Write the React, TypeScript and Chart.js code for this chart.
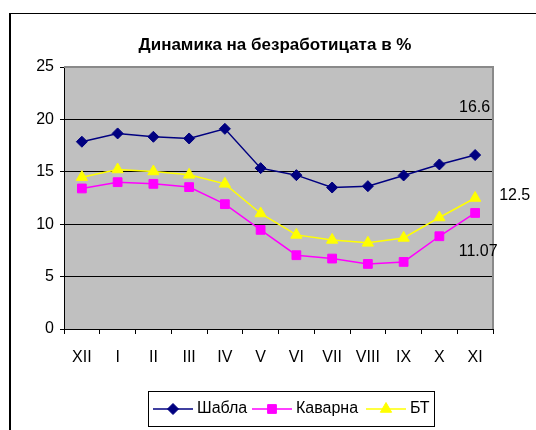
import React, { useEffect, useRef } from "react";
import { Chart, registerables } from "chart.js";

Chart.register(...registerables);

const TITLE = "Динамика на безработицата в %";
const months = ["XII", "I", "II", "III", "IV", "V", "VI", "VII", "VIII", "IX", "X", "XI"];
const shabla = [17.87, 18.66, 18.34, 18.18, 19.1, 15.35, 14.68, 13.5, 13.63, 14.65, 15.7, 16.6];
const kavarna = [13.41, 14.01, 13.85, 13.54, 11.91, 9.46, 7.04, 6.72, 6.21, 6.4, 8.85, 11.07];
const bt = [14.49, 15.22, 15.03, 14.71, 13.85, 11.02, 8.98, 8.5, 8.22, 8.69, 10.64, 12.5];
const seriesNames = ["Шабла", "Каварна", "БТ"];
const yTicks = [0, 5, 10, 15, 20, 25];

const FONT = "'Liberation Sans', Arial, sans-serif";
const LEGEND_STARTS = [153, 252, 366];

function drawMarker(ctx: CanvasRenderingContext2D, style: string, r: number, x: number, y: number) {
  ctx.beginPath();
  if (style === "rectRot") {
    ctx.moveTo(x, y - r);
    ctx.lineTo(x + r, y);
    ctx.lineTo(x, y + r);
    ctx.lineTo(x - r, y);
  } else if (style === "rect") {
    const s = r * Math.SQRT1_2;
    ctx.rect(x - s, y - s, 2 * s, 2 * s);
  } else {
    ctx.moveTo(x, y - r);
    ctx.lineTo(x + r * Math.sin((2 * Math.PI) / 3), y - r * Math.cos((2 * Math.PI) / 3));
    ctx.lineTo(x + r * Math.sin((4 * Math.PI) / 3), y - r * Math.cos((4 * Math.PI) / 3));
  }
  ctx.closePath();
  ctx.fill();
  ctx.stroke();
}

const decorPlugin = {
  id: "decor",
  beforeDraw(chart: any) {
    const { ctx, chartArea: a } = chart;
    ctx.save();
    ctx.fillStyle = "#ffffff";
    ctx.fillRect(0, 0, chart.width, chart.height);
    ctx.fillStyle = "#000";
    ctx.fillRect(9, 13, 2, chart.height - 13);
    ctx.fillRect(9, 13, chart.width - 9, 1);
    ctx.fillStyle = "#c0c0c0";
    ctx.fillRect(a.left, a.top, a.right - a.left, a.bottom - a.top);
    ctx.restore();
  },
  beforeDatasetsDraw(chart: any) {
    const { ctx, chartArea: a } = chart;
    ctx.save();
    ctx.strokeStyle = "#8a8a8a";
    ctx.lineWidth = 2;
    ctx.beginPath();
    ctx.moveTo(a.left, a.top);
    ctx.lineTo(a.right, a.top);
    ctx.lineTo(a.right, a.bottom);
    ctx.stroke();
    ctx.restore();
  },
  afterDraw(chart: any) {
    const { ctx } = chart;
    ctx.save();
    ctx.fillStyle = "#000";
    ctx.font = `bold 17px ${FONT}`;
    ctx.textAlign = "center";
    ctx.textBaseline = "middle";
    ctx.fillText(TITLE, 275, 45);

    ctx.font = `16px ${FONT}`;
    const last = months.length - 1;
    const p0 = chart.getDatasetMeta(0).data[last];
    const p1 = chart.getDatasetMeta(1).data[last];
    const p2 = chart.getDatasetMeta(2).data[last];
    ctx.textAlign = "right";
    ctx.fillText(String(shabla[last]), p0.x + 15, p0.y - 47);
    ctx.textAlign = "center";
    ctx.fillText(String(kavarna[last]), p1.x + 3, p1.y + 39);
    ctx.textAlign = "left";
    ctx.fillText(String(bt[last]), p2.x + 24, p2.y - 2);

    // legend
    ctx.strokeStyle = "#000";
    ctx.lineWidth = 1;
    ctx.strokeRect(148.5, 391.5, 286, 35);
    const yc = 409;
    ctx.textAlign = "left";
    ctx.textBaseline = "middle";
    chart.data.datasets.forEach((ds: any, i: number) => {
      const x = LEGEND_STARTS[i];
      ctx.strokeStyle = ds.borderColor;
      ctx.lineWidth = ds.borderWidth;
      ctx.beginPath();
      ctx.moveTo(x, yc);
      ctx.lineTo(x + 40, yc);
      ctx.stroke();
      ctx.fillStyle = ds.backgroundColor;
      ctx.lineWidth = 1;
      drawMarker(ctx, ds.pointStyle, ds.pointRadius, x + 20, yc);
      ctx.fillStyle = "#000";
      ctx.fillText(ds.label, x + 44, yc);
    });
    ctx.restore();
  },
};

export default function App() {
  const ref = useRef<HTMLCanvasElement | null>(null);
  useEffect(() => {
    if (!ref.current) return;
    const chart = new Chart(ref.current, {
      type: "line",
      data: {
        labels: months,
        datasets: [
          {
            label: seriesNames[0],
            data: shabla,
            borderColor: "#000080",
            backgroundColor: "#000080",
            borderWidth: 1.5,
            pointStyle: "rectRot",
            pointRadius: 5.5,
            pointHoverRadius: 5.5,
            pointBorderWidth: 1,
            tension: 0,
          },
          {
            label: seriesNames[1],
            data: kavarna,
            borderColor: "#ff00ff",
            backgroundColor: "#ff00ff",
            borderWidth: 1.5,
            pointStyle: "rect",
            pointRadius: 6.2,
            pointHoverRadius: 6.2,
            pointBorderWidth: 1,
            tension: 0,
          },
          {
            label: seriesNames[2],
            data: bt,
            borderColor: "#ffff00",
            backgroundColor: "#ffff00",
            borderWidth: 1.5,
            pointStyle: "triangle",
            pointRadius: 6.5,
            pointHoverRadius: 6.5,
            pointBorderWidth: 1,
            tension: 0,
          },
        ],
      },
      options: {
        responsive: false,
        animation: false,
        events: [],
        layout: { padding: { top: 67, right: 43, bottom: 0, left: 0 } },
        plugins: {
          legend: { display: false },
          title: { display: false },
          tooltip: { enabled: false },
        },
        scales: {
          x: {
            offset: true,
            grid: {
              offset: true,
              drawOnChartArea: false,
              tickLength: 5,
              color: "#000",
              tickColor: "#000",
            },
            border: { display: true, color: "#000", width: 1 },
            ticks: {
              padding: 14,
              color: "#000",
              font: { family: FONT, size: 16 },
              maxRotation: 0,
              autoSkip: false,
            },
            afterFit: (s: any) => {
              s.height = 101;
            },
          },
          y: {
            min: 0,
            max: 25,
            afterBuildTicks: (s: any) => {
              s.ticks = yTicks.map((v) => ({ value: v }));
            },
            grid: {
              tickLength: 4,
              color: (c: any) => (c.tick && c.tick.value === 25 ? "rgba(0,0,0,0)" : "#000"),
              tickColor: "#000",
            },
            border: { display: true, color: "#000", width: 1 },
            ticks: {
              padding: 6,
              color: "#000",
              font: { family: FONT, size: 16 },
            },
            afterFit: (s: any) => {
              s.width = 64;
            },
          },
        },
      },
      plugins: [decorPlugin],
    });
    return () => chart.destroy();
  }, []);
  return (
    <div style={{ position: "absolute", left: 0, top: 0, width: 536, height: 430 }}>
      <canvas ref={ref} width={536} height={430} style={{ width: 536, height: 430, display: "block" }} />
    </div>
  );
}
